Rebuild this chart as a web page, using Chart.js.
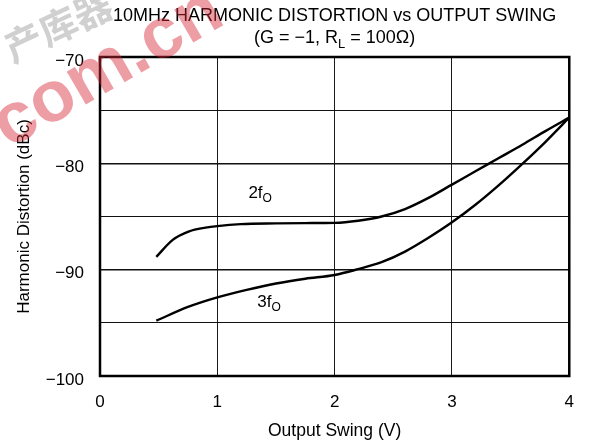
<!DOCTYPE html>
<html><head><meta charset="utf-8">
<script src="https://cdn.jsdelivr.net/npm/chart.js@4.4.1/dist/chart.umd.min.js"></script>
<style>html,body{margin:0;padding:0;background:#fff}#wrap{width:590px;height:445px}</style>
</head><body><div id="wrap"><canvas id="c" width="590" height="445"></canvas></div>
<script>
// ---- data ----
const swing2f = [0.48, 0.62, 0.76, 0.9, 1.0, 1.2, 1.5, 1.75, 2.0, 2.2, 2.4, 2.6, 2.8, 3.0, 3.2, 3.4, 3.6, 3.8, 4.0];
const dist2f  = [-88.8, -87.2, -86.4, -86.05, -85.9, -85.72, -85.65, -85.62, -85.6, -85.4, -85.0, -84.3, -83.25, -82.0, -80.75, -79.5, -78.25, -76.95, -75.7];
const swing3f = [0.48, 0.75, 1.0, 1.25, 1.5, 1.75, 2.0, 2.2, 2.4, 2.6, 2.8, 3.0, 3.2, 3.4, 3.6, 3.8, 4.0];
const dist3f  = [-94.8, -93.5, -92.6, -91.9, -91.3, -90.85, -90.5, -89.95, -89.3, -88.3, -87.0, -85.55, -83.9, -82.05, -80.05, -77.95, -75.7];
const xTickValues = [0, 1, 2, 3, 4];
const yTickValues = [-70, -80, -90, -100];
const yTickLabels = ['\u221270', '\u221280', '\u221290', '\u2212100'];
const titleLine1 = '10MHz HARMONIC DISTORTION vs OUTPUT SWING';
const titleLine2 = [['(G = \u22121, R', false], ['L', true], [' = 100\u03A9)', false]];
const curveLabels = [
  {parts: [['2f', false], ['O', true]], x: 1.265, y: -82.8},
  {parts: [['3f', false], ['O', true]], x: 1.34, y: -93.05}
];

const FONT = '"Liberation Sans", Arial, Helvetica, sans-serif';
Chart.defaults.font.family = FONT;
Chart.defaults.font.size = 17;
Chart.defaults.color = '#000';

function drawParts(ctx, parts, x, y, align, size) {
  const mainF = size + 'px ' + FONT, subF = Math.round(size * 0.7) + 'px ' + FONT;
  let w = 0;
  parts.forEach(([t, s]) => { ctx.font = s ? subF : mainF; w += ctx.measureText(t).width; });
  let cx = align === 'center' ? x - w / 2 : x;
  ctx.textAlign = 'left';
  ctx.textBaseline = 'middle';
  parts.forEach(([t, s]) => {
    ctx.font = s ? subF : mainF;
    ctx.fillText(t, cx, s ? y + 6 : y);
    cx += ctx.measureText(t).width;
  });
}

const overlay = {
  id: 'overlay',
  afterDatasetsDraw(chart) {
    const {ctx, chartArea: a} = chart;
    ctx.save();
    ctx.strokeStyle = '#000';
    ctx.lineWidth = 2.5;
    ctx.strokeRect(a.left, a.top, a.right - a.left, a.bottom - a.top);
    ctx.restore();
  },
  afterDraw(chart) {
    const {ctx, chartArea: a, scales} = chart;
    ctx.save();
    ctx.fillStyle = '#000';
    const cx = (a.left + a.right) / 2;
    ctx.font = '18px ' + FONT;
    ctx.textAlign = 'center';
    ctx.textBaseline = 'middle';
    ctx.fillText(titleLine1, cx, 16);
    drawParts(ctx, titleLine2, cx, 38, 'center', 18);
    curveLabels.forEach(l => {
      drawParts(ctx, l.parts, scales.x.getPixelForValue(l.x), scales.y.getPixelForValue(l.y), 'left', 17);
    });
    // watermark
    ctx.globalAlpha = 0.45;
    ctx.fillStyle = 'rgb(215,40,55)';
    ctx.translate(118, 86);
    ctx.rotate(-30 * Math.PI / 180);
    ctx.font = 'bold 72px ' + FONT;
    ctx.textAlign = 'center';
    ctx.textBaseline = 'alphabetic';
    ctx.fillText('com.cn', 0, 0);
    ctx.restore();
    ctx.save();
    ctx.globalAlpha = 0.35;
    ctx.fillStyle = 'rgb(120,120,120)';
    ctx.font = 'bold 38px "Noto Sans CJK SC"';
    ctx.textAlign = 'center';
    ctx.textBaseline = 'middle';
    ctx.translate(58, 26);
    ctx.rotate(-25 * Math.PI / 180);
    ctx.fillText('产库器', 0, 0);
    ctx.restore();
  }
};

const mk = (xs, ys) => xs.map((x, i) => ({x, y: ys[i]}));

new Chart(document.getElementById('c'), {
  type: 'line',
  data: {
    datasets: [
      {label: '2fO', data: mk(swing2f, dist2f), borderColor: '#000', borderWidth: 2.4, pointRadius: 0, cubicInterpolationMode: 'monotone', fill: false},
      {label: '3fO', data: mk(swing3f, dist3f), borderColor: '#000', borderWidth: 2.4, pointRadius: 0, cubicInterpolationMode: 'monotone', fill: false}
    ]
  },
  options: {
    responsive: false,
    animation: false,
    layout: {padding: {top: 57, right: 19, left: 0, bottom: 0}},
    plugins: {legend: {display: false}, tooltip: {enabled: false}},
    scales: {
      x: {
        type: 'linear', min: 0, max: 4,
        afterFit(s) { s.height = 69; },
        afterBuildTicks(s) { s.ticks = xTickValues.map(v => ({value: v})); },
        ticks: {padding: 16, font: {size: 17}, color: '#000', callback: v => String(v)},
        grid: {color: '#1a1a1a', lineWidth: 1, drawTicks: false},
        border: {display: false},
        title: {display: true, text: 'Output Swing (V)', font: {size: 17.5}, color: '#000', padding: {top: 0, bottom: 3}}
      },
      y: {
        type: 'linear', min: -100, max: -70,
        afterFit(s) { s.width = 100; },
        ticks: {stepSize: 5, padding: 16, labelOffset: 4, font: {size: 17}, color: '#000',
          callback: v => { const i = yTickValues.indexOf(v); return i >= 0 ? yTickLabels[i] : ''; }},
        grid: {color: '#111', lineWidth: ctx => (ctx.tick && ctx.tick.value % 10 === 0) ? 1.6 : 1.1, drawTicks: false},
        border: {display: false},
        title: {display: true, text: 'Harmonic Distortion (dBc)', font: {size: 17}, color: '#000', padding: {top: 14, bottom: 0}}
      }
    }
  },
  plugins: [overlay]
});
</script>
</body></html>
